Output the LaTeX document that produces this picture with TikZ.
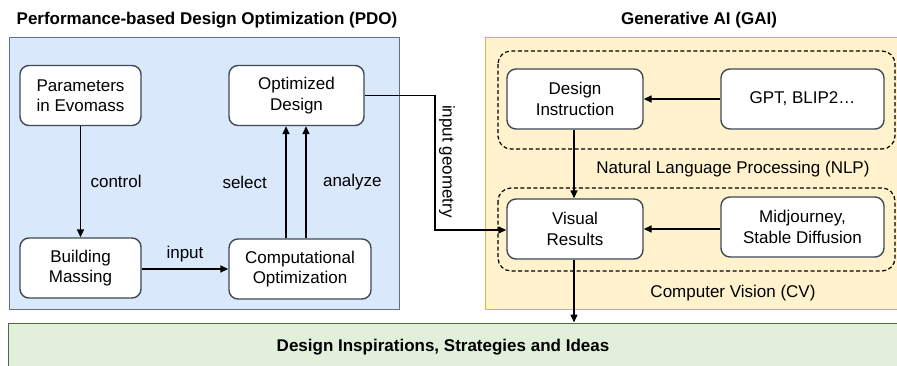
\documentclass[tikz,border=0pt]{standalone}
\usepackage{fontspec}
\setmainfont{Liberation Sans}
\usetikzlibrary{arrows.meta}
\definecolor{pdofill}{HTML}{DAE8FC}
\definecolor{pdoline}{HTML}{5A7391}
\definecolor{gaifill}{HTML}{FFF2CC}
\definecolor{gailine}{HTML}{D6B656}
\definecolor{ideafill}{HTML}{E2EFDA}
\definecolor{idealine}{HTML}{4F6B3A}
\definecolor{boxline}{HTML}{3E4A55}
\tikzset{
	block/.style   = {draw=boxline, line width=1.4bp, rounded corners=9bp,
		fill=white, align=center, minimum height=60bp, inner sep=2bp},
	group/.style   = {draw, line width=1.2bp, dash pattern=on 4bp off 2.5bp,
		rounded corners=13bp},
	panel/.style   = {line width=1bp},
	title/.style   = {font=\bigfont\bfseries},
	note/.style    = {font=\bigfont}
}
\newcommand{\bigfont}{\fontsize{17bp}{20.5bp}\selectfont}

\begin{document}
\begin{tikzpicture}[x=1bp, y=-1bp, line width=1.5bp, >={Triangle[length=8bp,width=7bp]},
	every node/.style={font=\bigfont}]
	\useasboundingbox (0,0) rectangle (897,365);
	
	% Panels in the background
	\draw[panel, fill=pdofill, draw=pdoline] (9,37) rectangle (399,309);
	\draw[panel, fill=gaifill, draw=gailine] (485,37) rectangle (905,309);
	\draw[group] (498,51) rectangle (895,149);
	\draw[group] (498,188) rectangle (895,271);
	\draw node at (454,346)[panel, draw=idealine, fill=ideafill,
		minimum width=890bp, minimum height=46bp] (ideas) {};
	
	\draw
	node at (207,20)[title] (pdo) {Performance-based Design Optimization (PDO)}
	node at (699,20)[title] (gai) {Generative AI (GAI)}
	node at (733,169)[note] (nlp) {Natural Language Processing (NLP)}
	node at (733,293)[note] (cv) {Computer Vision (CV)}
	node at (443,347)[title] (idtext) {Design Inspirations, Strategies and Ideas};
	
	% Drawing the blocks of the PDO loop
	\draw
	node at (80.5,95.5)[block, minimum width=121bp] (par) {Parameters\\in Evomass}
	node at (296.5,95.5)[block, minimum width=135bp] (opt) {Optimized\\Design}
	node at (80.5,268)[block, minimum width=121bp] (bm) {Building\\Massing}
	node at (300,269)[block, minimum width=142bp] (co) {Computational\\Optimization};
	
	% Drawing the blocks of the GAI part
	\draw
	node at (575,99)[block, minimum width=136bp] (di) {Design\\Instruction}
	node at (802.5,99)[block, minimum width=163bp] (gpt) {GPT, BLIP2\dots}
	node at (575,229)[block, minimum width=136bp] (vr) {Visual\\Results}
	node at (802.5,227)[block, minimum width=163bp] (mj) {Midjourney,\\Stable Diffusion};
	
	\coordinate (turn) at (435,95.5);
	
	\draw[->] (par) -- node[right, xshift=6bp] {control} (bm);
	\draw[->] (bm.east |- 0,269) -- node[above, yshift=3bp] {input} (co.west |- 0,269);
	\draw[->] (co.north -| 286,0) -- node[left, xshift=-15bp] {select} (opt.south -| 286,0);
	\draw[->] (co.north -| 306,0) -- node[right, xshift=13bp] {analyze} (opt.south -| 306,0);
	\draw[->] (opt.east) -- (turn) -- node[rotate=-90, above, pos=0.49] {input geometry}
		(turn |- 0,230) -- (vr.west |- 0,230);
	\draw[->] (gpt) -- (di);
	\draw[->] (mj.west |- vr) -- (vr);
	\draw[->] (di.south -| 574,0) -- (vr.north -| 574,0);
	\draw[->] (vr.south -| 574,0) -- (ideas.north -| 574,0);
	
\end{tikzpicture}
\end{document}
